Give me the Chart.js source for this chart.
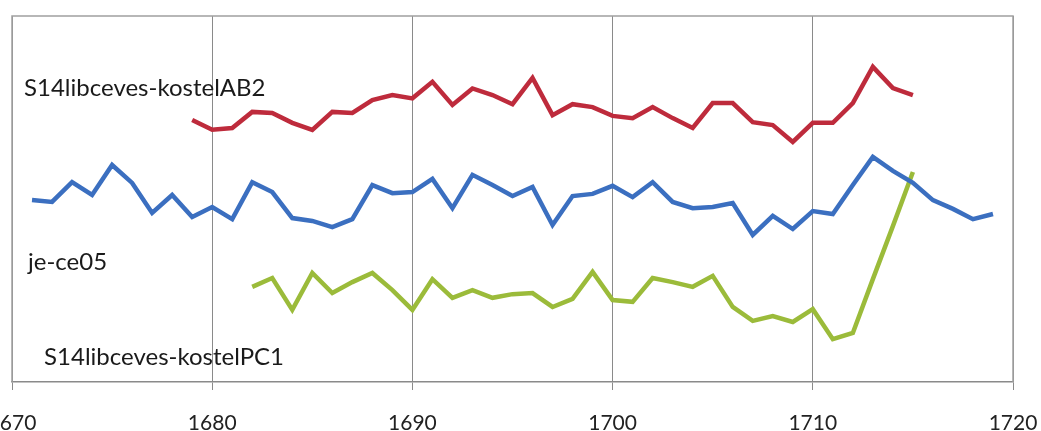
<!DOCTYPE html>
<html>
<head>
<meta charset="utf-8">
<script src="https://cdn.jsdelivr.net/npm/chart.js@4/dist/chart.umd.min.js"></script>
<style>
  html, body { margin: 0; padding: 0; background: #fff; }
  #wrap { width: 1041px; height: 431px; }
</style>
</head>
<body>
<div id="wrap"><canvas id="c"></canvas></div>
<script>
// ─── Data (index values) ────────────────────────────────────────────────────
const yearTicks = [1670, 1680, 1690, 1700, 1710, 1720];

const ab2Start = 1679;
const ab2Values = [
  71.6, 68.9, 69.4, 73.8, 73.5, 70.8, 68.9, 73.8, 73.5, 77.0,
  78.4, 77.5, 82.0, 75.7, 80.2, 78.4, 75.9, 83.1, 72.9, 75.9,
  75.1, 72.7, 72.1, 75.1, 72.1, 69.4, 76.2, 76.2, 71.0, 70.2,
  65.6, 70.8, 70.8, 76.2, 86.1, 80.3, 78.4,
];

const ce05Start = 1671;
const ce05Values = [
  49.7, 49.2, 54.6, 51.1, 59.3, 54.4, 46.2, 51.1, 45.1, 47.8,
  44.5, 54.6, 51.9, 44.8, 44.0, 42.3, 44.5, 53.8, 51.6, 51.9,
  55.5, 47.5, 56.6, 53.8, 50.8, 53.3, 42.9, 50.8, 51.4, 53.6,
  50.5, 54.6, 49.2, 47.5, 47.8, 48.9, 40.2, 45.4, 41.8, 46.7,
  45.9, 53.8, 61.5, 57.7, 54.4, 49.7, 47.3, 44.5, 45.9,
];

const pc1Start = 1682;
const pc1Values = [
  26.0, 28.4, 19.7, 29.8, 24.3, 27.3, 29.8, 25.1, 19.7, 28.1,
  23.0, 25.1, 23.0, 24.0, 24.3, 20.5, 22.7, 30.1, 22.4, 21.9,
  28.4, 27.3, 26.0, 29.0, 20.5, 16.7, 18.0, 16.4, 19.9, 11.7,
  13.4, 28.1, 42.6, 57.4,
];

// labels placed in data coordinates: [text, year, value]
const seriesLabels = [
  ['S14libceves-kostelAB2', 1670.6, 80.3],
  ['je-ce05', 1670.8, 32.8],
  ['S14libceves-kostelPC1', 1671.6, 6.8],
];

const toPoints = (start, vals) => vals.map((v, i) => ({ x: start + i, y: v }));

// ─── Plugins ────────────────────────────────────────────────────────────────
const frame = {
  id: 'frame',
  beforeDatasetsDraw(chart) {
    const { ctx, chartArea: a } = chart;
    ctx.save();
    ctx.strokeStyle = '#a0a0a0';
    ctx.lineWidth = 1.5;
    ctx.beginPath();
    ctx.moveTo(a.left, a.bottom);
    ctx.lineTo(a.left, a.top);
    ctx.lineTo(a.right, a.top);
    ctx.lineTo(a.right, a.bottom);
    ctx.stroke();
    ctx.restore();
  },
};

const inlineLabels = {
  id: 'inlineLabels',
  afterDatasetsDraw(chart) {
    const { ctx, scales: { x, y } } = chart;
    ctx.save();
    ctx.font = '24px Lato';
    ctx.fillStyle = '#1a1a1a';
    ctx.textBaseline = 'middle';
    ctx.textAlign = 'left';
    seriesLabels.forEach(([t, yr, v]) => ctx.fillText(t, x.getPixelForValue(yr), y.getPixelForValue(v)));
    ctx.restore();
  },
};

// ─── Chart ──────────────────────────────────────────────────────────────────
const line = (data, color) => ({
  data,
  borderColor: color,
  borderWidth: 4.5,
  pointRadius: 0,
  tension: 0,
  fill: false,
});

new Chart(document.getElementById('c'), {
  type: 'line',
  data: {
    datasets: [
      line(toPoints(ab2Start, ab2Values), '#be2b3c'),
      line(toPoints(ce05Start, ce05Values), '#3b6fc0'),
      line(toPoints(pc1Start, pc1Values), '#9bbb3a'),
    ],
  },
  options: {
    responsive: true,
    maintainAspectRatio: false,
    animation: false,
    layout: { padding: { left: 12, right: 28, top: 16, bottom: 0 } },
    plugins: { legend: { display: false }, tooltip: { enabled: false } },
    scales: {
      x: {
        type: 'linear',
        min: yearTicks[0],
        max: yearTicks[yearTicks.length - 1],
        afterBuildTicks: s => { s.ticks = yearTicks.map(v => ({ value: v })); },
        afterFit: s => { s.paddingLeft = 0; s.paddingRight = 0; s.height = 49; },
        ticks: {
          color: '#222',
          font: { family: 'Lato', size: 21 },
          padding: 21,
          maxRotation: 0,
          callback: v => String(v),
        },
        grid: { color: '#8a8a8a', lineWidth: 1, tickLength: 8 },
        border: { color: '#8a8a8a', width: 1.5 },
      },
      y: { display: false, min: 0, max: 100 },
    },
  },
  plugins: [frame, inlineLabels],
});
</script>
</body>
</html>
